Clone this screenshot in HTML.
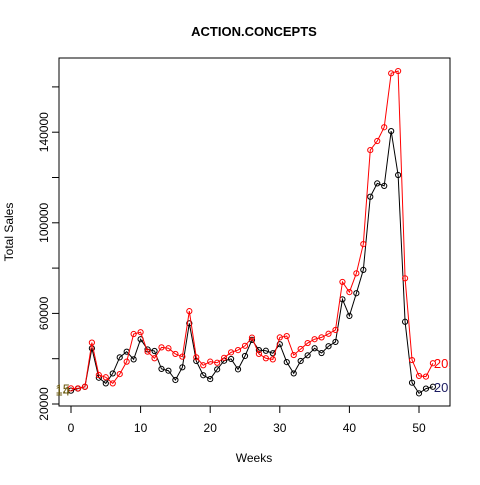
<!DOCTYPE html>
<html><head><meta charset="utf-8"><style>
body{margin:0;background:#fff}
svg text{font-family:"Liberation Sans",Arial,sans-serif}
</style></head><body>
<svg id="chart" width="480" height="480" viewBox="0 0 480 480">
<rect width="480" height="480" fill="#fff"/>
<defs>
<clipPath id="clip"><rect x="59" y="58" width="391" height="348"/></clipPath>
<clipPath id="clip2"><rect x="55" y="58" width="395" height="348"/></clipPath>
</defs>
<text x="254" y="36" text-anchor="middle" font-weight="bold" font-size="13">ACTION.CONCEPTS</text>
<text x="254" y="462" text-anchor="middle" font-size="12">Weeks</text>
<text transform="translate(13,232) rotate(-90)" text-anchor="middle" font-size="12">Total Sales</text>
<rect x="59" y="58" width="391" height="348" fill="none" stroke="#000"/>
<g id="axes"></g>
<g id="series" clip-path="url(#clip)"></g>
<g id="labels" clip-path="url(#clip2)"></g>
</svg>
<script>
const weeks = [0,1,2,3,4,5,6,7,8,9,10,11,12,13,14,15,16,17,18,19,20,21,22,23,24,25,26,27,28,29,30,31,32,33,34,35,36,37,38,39,40,41,42,43,44,45,46,47,48,49,50,51,52];
const sales2014 = [25900,26800,27600,44600,31600,29100,33500,40600,43100,39700,48600,44100,43400,35500,34700,30600,36200,55600,39000,32700,31000,35300,39100,39900,35300,41200,48300,43800,43500,42400,46400,38500,33500,39000,41500,44600,42500,45500,47400,66200,58900,68900,79200,111500,117400,116300,140500,121100,56300,29400,24700,26800,27600];
const sales2015 = [26900,26900,27600,47100,32800,31800,29100,33200,38700,50900,51700,43100,40200,45000,44600,42100,40900,61000,40600,37100,38700,38200,40400,42800,43800,45700,49300,42100,40200,39700,49400,50000,41600,44300,46900,48600,49400,51000,52700,73900,69400,77700,90600,132100,136100,142200,166000,167000,75500,39400,32400,32100,38000];
const xTicks = [0,10,20,30,40,50];
const yTicks = [20000,40000,60000,80000,100000,120000,140000,160000];
const yLabels = [20000,60000,100000,140000];
const seriesNames = ["2014","2015"];
const NS="http://www.w3.org/2000/svg";
const xs = w => 71 + w*6.96;
const ys = v => 404 - (v-20000)/20000*45.3;
function mk(tag, attrs, parent){const e=document.createElementNS(NS,tag);for(const k in attrs)e.setAttribute(k,attrs[k]);parent.appendChild(e);return e;}
const axes=document.getElementById('axes');
xTicks.forEach(t=>{
  const l=mk('line',{x1:xs(t),x2:xs(t),y1:406,y2:413,stroke:'#000'},axes);
  
  
  const tx=mk('text',{x:xs(t),y:432,'text-anchor':'middle','font-size':'12'},axes);
  tx.textContent=t;
  
  
});
yTicks.forEach(t=>{
  const l=mk('line',{x1:52,x2:59,y1:ys(t),y2:ys(t),stroke:'#000'},axes);
  
  
});
yLabels.forEach(t=>{
  const tx=mk('text',{transform:`translate(48,${ys(t)}) rotate(-90)`,'text-anchor':'middle','font-size':'12'},axes);
  tx.textContent=t;
  
  
});
const g=document.getElementById('series');
const lg=document.getElementById('labels');
[[sales2014,'#000',seriesNames[0],'#1a1a60'],[sales2015,'#f00',seriesNames[1],'#f00']].forEach(([vals,col,name,lcol])=>{
  const pts=vals.map((v,i)=>xs(weeks[i])+','+ys(v)).join(' ');
  const pl=mk('polyline',{points:pts,fill:'none',stroke:col,'stroke-width':1},g);
  
  
  vals.forEach((v,i)=>{
    const c=mk('circle',{cx:xs(weeks[i]),cy:ys(v),r:2.6,fill:'none',stroke:col,'stroke-width':1},g);
    
    
  });
  const last=vals.length-1;
  const r=mk('text',{x:xs(weeks[last])+1,y:ys(vals[last])+5,'font-size':'13',fill:lcol},lg);
  r.textContent=name;
  
  
  const lft=mk('text',{x:xs(weeks[0])-1,y:ys(vals[0])+5,'font-size':'13',fill:'#6b5a10','text-anchor':'end'},lg);
  lft.textContent=name;
  
  
});
</script>
</body></html>
